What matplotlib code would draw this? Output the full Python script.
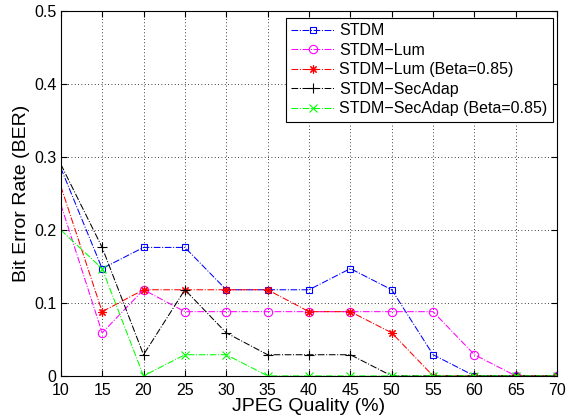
import matplotlib
matplotlib.use("Agg")
import matplotlib.pyplot as plt

plt.rcParams["font.family"] = ["Liberation Sans", "DejaVu Sans"]

quality = [10, 15, 20, 25, 30, 35, 40, 45, 50, 55, 60, 65, 70]

stdm = [0.285, 0.147, 0.176, 0.176, 0.118, 0.118, 0.118, 0.147, 0.118, 0.029, 0.0, 0.0, 0.0]
stdm_lum = [0.235, 0.059, 0.118, 0.088, 0.088, 0.088, 0.088, 0.088, 0.088, 0.088, 0.029, 0.0, 0.0]
stdm_lum_beta = [0.26, 0.088, 0.118, 0.118, 0.118, 0.118, 0.088, 0.088, 0.059, 0.0, 0.0, 0.0, 0.0]
stdm_sec = [0.29, 0.176, 0.029, 0.118, 0.059, 0.029, 0.029, 0.029, 0.0, 0.0, 0.0, 0.0, 0.0]
stdm_sec_beta = [0.2, 0.147, 0.0, 0.029, 0.029, 0.0, 0.0, 0.0, 0.0, 0.0, 0.0, 0.0, 0.0]

labels = [
    "STDM",
    "STDM\u2212Lum",
    "STDM\u2212Lum (Beta=0.85)",
    "STDM\u2212SecAdap",
    "STDM\u2212SecAdap (Beta=0.85)",
]
series = [stdm, stdm_lum, stdm_lum_beta, stdm_sec, stdm_sec_beta]
colors = ["#0000ff", "#ff00ff", "#ff0000", "#000000", "#00ff00"]
# matlab-ish markers: square, circle, asterisk, plus, cross
markers = ["s", "o", (8, 2, 0), "+", "x"]
sizes = [5, 6, 6, 7, 6]

fig = plt.figure(figsize=(5.68, 4.2), dpi=100)
ax = fig.add_axes([0.107, 0.105, 0.874, 0.869])

for values, label, color, marker, ms in zip(series, labels, colors, markers, sizes):
    ax.plot(quality, values, linestyle="-.", color=color, marker=marker,
            markersize=ms, markerfacecolor="none", markeredgecolor=color,
            markeredgewidth=0.8, linewidth=0.75, label=label,
            markevery=slice(1, None))

ax.set_xlim(10, 70)
ax.set_ylim(0, 0.5)
ax.set_xticks(range(10, 71, 5))
ax.set_yticks([0, 0.1, 0.2, 0.3, 0.4, 0.5])
ax.set_yticklabels(["0", "0.1", "0.2", "0.3", "0.4", "0.5"])
ax.grid(True, color="black", linestyle=(0, (1, 3)), linewidth=0.6)
ax.tick_params(direction="in", top=True, right=True, labelsize=11.5, length=4)
ax.tick_params(axis="x", pad=5)
ax.tick_params(axis="y", pad=3)
for spine in ax.spines.values():
    spine.set_linewidth(0.8)

ax.set_xlabel("JPEG Quality (%)", fontsize=14, labelpad=0)
ax.set_ylabel("Bit Error Rate (BER)", fontsize=14, labelpad=3)

leg = ax.legend(loc="upper right", bbox_to_anchor=(0.992, 0.981), fontsize=11.5,
                fancybox=False, framealpha=1, edgecolor="black", borderaxespad=0,
                handlelength=2.7, labelspacing=0.28, borderpad=0.35,
                handletextpad=0.3, numpoints=1)
leg.get_frame().set_linewidth(0.8)

fig.savefig("out.png", dpi=100)
